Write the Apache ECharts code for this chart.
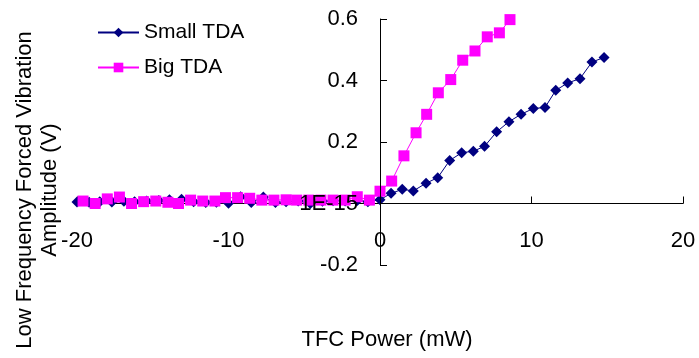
<!DOCTYPE html>
<html>
<head>
<meta charset="utf-8">
<script src="https://cdn.jsdelivr.net/npm/echarts@6/dist/echarts.min.js"></script>
<style>
html,body{margin:0;padding:0;background:#fff;}
#c{width:699px;height:358px;}
</style>
</head>
<body>
<div id="c"></div>
<script>
const smallX = [-20, -19.2, -18.5, -17.7, -16.9, -16.2, -15.4, -14.6, -13.9, -13.1, -12.3, -11.5, -10.8, -10.0, -9.2, -8.5, -7.7, -6.9, -6.2, -5.4, -4.6, -3.8, -3.1, -2.3, -1.5, -0.8, 0, 0.73, 1.47, 2.2, 3.04, 3.81, 4.6, 5.39, 6.16, 6.9, 7.7, 8.51, 9.31, 10.12, 10.89, 11.6, 12.39, 13.2, 13.99, 14.79];
const smallY = [0.005, 0.004, 0.006, 0.005, 0.007, 0.006, 0.008, 0.01, 0.012, 0.014, 0.006, 0.003, 0.004, 0.001, 0.022, 0.003, 0.021, 0.003, 0.006, 0.008, 0.0, 0.007, 0.009, 0.008, 0.01, 0.006, 0.012, 0.033, 0.046, 0.041, 0.066, 0.084, 0.14, 0.165, 0.17, 0.186, 0.233, 0.266, 0.29, 0.309, 0.312, 0.368, 0.392, 0.406, 0.46, 0.475];
const bigX = [-19.6, -18.8, -18.0, -17.2, -16.4, -15.6, -14.8, -14.0, -13.3, -12.5, -11.7, -10.9, -10.2, -9.4, -8.6, -7.8, -7.0, -6.2, -5.5, -4.7, -3.9, -3.1, -2.3, -1.5, -0.7, 0, 0.77, 1.58, 2.38, 3.08, 3.85, 4.67, 5.46, 6.27, 7.08, 7.88, 8.58];
const bigY = [0.008, 0.0, 0.015, 0.021, 0.0, 0.006, 0.008, 0.004, 0.0, 0.011, 0.008, 0.008, 0.019, 0.019, 0.017, 0.011, 0.011, 0.012, 0.011, 0.011, 0.011, 0.011, 0.011, 0.022, 0.011, 0.04, 0.073, 0.155, 0.23, 0.29, 0.36, 0.403, 0.466, 0.496, 0.542, 0.555, 0.598];
const seriesNames = ['Small TDA', 'Big TDA'];
const xTitle = 'TFC Power (mW)';
const yTitle = ['Low Frequency Forced Vibration', 'Amplitude (V)'];

const FONT = 'Liberation Sans, Arial, sans-serif';
const chart = echarts.init(document.getElementById('c'), null, {renderer: 'canvas'});
const pair = (xs, ys) => xs.map((x, i) => [x, ys[i]]);
const GRID = {left: 77, right: 16, top: 19, bottom: 93};

function build(xOff, yOff) {
  return {
    animation: false,
    backgroundColor: '#fff',
    textStyle: {fontFamily: FONT, color: '#000'},
    grid: Object.assign({containLabel: false, outerBoundsMode: 'none'}, GRID),
    legend: {
      orient: 'vertical', left: 97, top: 22, padding: 0, itemWidth: 41, itemHeight: 12, itemGap: 14,
      textStyle: {fontFamily: FONT, fontSize: 21, color: '#000'},
      data: seriesNames
    },
    xAxis: {
      type: 'value', min: -20, max: 20, interval: 10, offset: xOff,
      axisLine: {onZero: false, lineStyle: {color: '#000', width: 1}},
      axisTick: {inside: true, length: 7, lineStyle: {color: '#000'}},
      axisLabel: {margin: 26, fontSize: 22, fontFamily: FONT, color: '#000'},
      splitLine: {show: false},
      name: xTitle, nameLocation: 'middle', nameGap: 125,
      nameTextStyle: {fontSize: 22, fontFamily: FONT, color: '#000', padding: [0, 0, 0, 14]}
    },
    yAxis: {
      type: 'value', min: -0.2, max: 0.6, interval: 0.2, offset: yOff, z: 5,
      axisLine: {onZero: false, lineStyle: {color: '#000', width: 1}},
      axisTick: {inside: true, length: 7, lineStyle: {color: '#000'}},
      axisLabel: {margin: 22, fontSize: 22, fontFamily: FONT, color: '#000',
        formatter: v => (Math.abs(v) < 1e-9 ? '1E-15' : v.toFixed(1))},
      splitLine: {show: false}
    },
    graphic: [{
      type: 'text', x: 37, y: 190, rotation: Math.PI / 2,
      style: {text: yTitle.join('\n'), font: '22px ' + FONT, fill: '#000', align: 'center', verticalAlign: 'middle', lineHeight: 25}
    }],
    series: [{
      name: seriesNames[0], type: 'line', data: pair(smallX, smallY),
      symbol: 'diamond', symbolSize: 11, color: '#000080',
      lineStyle: {color: '#000080', width: 1}, itemStyle: {color: '#000080'}
    }, {
      name: seriesNames[1], type: 'line', data: pair(bigX, bigY),
      symbol: 'rect', symbolSize: 11, color: '#FF00FF',
      lineStyle: {color: '#FF00FF', width: 1}, itemStyle: {color: '#FF00FF'}
    }]
  };
}

chart.setOption(build(0, 0));
// move axes so they cross at the data origin (0,0), labels included
const origin = chart.convertToPixel({gridIndex: 0}, [0, 0]);
const h = 358;
const xOff = -((h - GRID.bottom) - origin[1]);   // bottom axis: negative offset moves it up
const yOff = -(origin[0] - GRID.left);            // left axis: negative offset moves it right
chart.setOption(build(xOff, yOff), true);
</script>
</body>
</html>
